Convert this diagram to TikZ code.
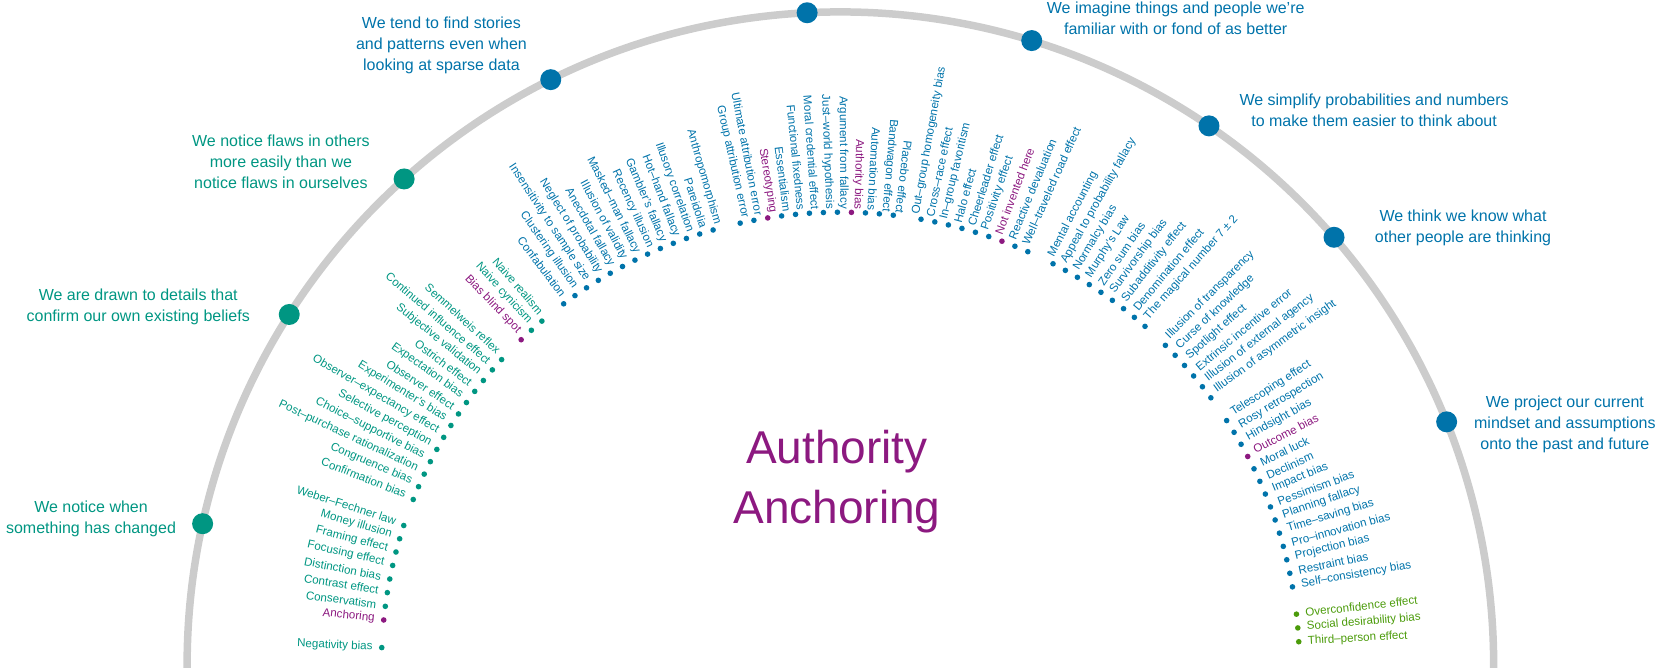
\documentclass[tikz,border=0pt]{standalone}
\usepackage{fontspec}
\setmainfont{Liberation Sans}
\usepackage{tikz}
\usetikzlibrary{positioning}

\definecolor{cgreen}{RGB}{0,150,130}
\definecolor{cblue}{RGB}{0,115,170}
\definecolor{cpurple}{RGB}{140,25,128}
\definecolor{colive}{RGB}{75,155,10}
\definecolor{cgrey}{RGB}{204,204,204}

\begin{document}
\begin{tikzpicture}[x=1pt,y=1pt,
    rim/.style={draw=cgrey,line width=7.5pt},
    hub/.style={circle,fill=#1,inner sep=0pt,minimum size=21pt},
    cat/.style={text=#1,align=center,inner sep=0pt,font=\fontsize{16}{21}\selectfont},
    title/.style={text=cpurple,align=center,inner sep=0pt,font=\fontsize{46}{60.7}\selectfont},
    bias text/.style={font=\fontsize{11.6}{13}\selectfont,inner sep=0pt,label distance=6pt},
    lb/.style n args={3}{circle,fill=#3,inner sep=0pt,minimum size=5.6pt,
      label={[bias text,text=#3,rotate=#1-180,anchor=east]#1:#2}},
    rb/.style n args={3}{circle,fill=#3,inner sep=0pt,minimum size=5.6pt,
      label={[bias text,text=#3,rotate=#1,anchor=west]#1:#2}}]

  \useasboundingbox (-840.4,-1.8) rectangle (833.6,665.2);

  % outer rim and its categories
  \draw[rim] (180.5:653.3) arc[start angle=180.5,end angle=-0.5,radius=653.3];

  \node[hub=cgreen] (changed) at (167.49:653.3) {};
  \node[hub=cgreen] (confirm) at (147.53:653.3) {};
  \node[hub=cgreen] (flaws) at (131.9:653.3) {};
  \node[hub=cblue] (stories) at (116.32:653.3) {};
  \node[hub=cblue] (top) at (92.92:653.3) {};
  \node[hub=cblue] (familiar) at (72.97:653.3) {};
  \node[hub=cblue] (simplify) at (55.65:653.3) {};
  \node[hub=cblue] (minds) at (40.92:653.3) {};
  \node[hub=cblue] (project) at (21.87:653.3) {};

  \node[cat=cgreen,xshift=-111.6pt,yshift=4.6pt] (changedtext) at (changed)
    {We notice when\\something has changed};
  \node[cat=cgreen,xshift=-151pt,yshift=7.5pt] (confirmtext) at (confirm)
    {We are drawn to details that\\confirm our own existing beliefs};
  \node[cat=cgreen,xshift=-123.2pt,yshift=16.7pt] (flawstext) at (flaws)
    {We notice flaws in others\\more easily than we\\notice flaws in ourselves};
  \node[cat=cblue,xshift=-109.3pt,yshift=34.6pt] (storiestext) at (stories)
    {We tend to find stories\\and patterns even when\\looking at sparse data};
  \node[cat=cblue,xshift=144pt,yshift=21.9pt] (familiartext) at (familiar)
    {We imagine things and people we're\\familiar with or fond of as better};
  \node[cat=cblue,xshift=165.1pt,yshift=15.7pt] (simplifytext) at (simplify)
    {We simplify probabilities and numbers\\to make them easier to think about};
  \node[cat=cblue,xshift=129pt,yshift=9.5pt] (mindstext) at (minds)
    {We think we know what\\other people are thinking};
  \node[cat=cblue,xshift=118.2pt,yshift=-2.4pt] (projecttext) at (project)
    {We project our current\\mindset and assumptions\\onto the past and future};

  \node[title] (title) at (-3.4,183.5) {Authority\\Anchoring};

  % inner ring, left half
  \node[lb={177.77}{Negativity bias}{cgreen}] (negativity) at (177.77:459 and 453) {};
  \node[lb={174.27}{Anchoring}{cpurple}] (anchoring) at (174.27:459 and 453) {};
  \node[lb={172.53}{Conservatism}{cgreen}] (conservatism) at (172.53:459 and 453) {};
  \node[lb={170.78}{Contrast effect}{cgreen}] (contrast) at (170.78:459 and 453) {};
  \node[lb={169.03}{Distinction bias}{cgreen}] (distinction) at (169.03:459 and 453) {};
  \node[lb={167.28}{Focusing effect}{cgreen}] (focusing) at (167.28:459 and 453) {};
  \node[lb={165.53}{Framing effect}{cgreen}] (framing) at (165.53:459 and 453) {};
  \node[lb={163.79}{Money illusion}{cgreen}] (money) at (163.79:459 and 453) {};
  \node[lb={162.04}{Weber--Fechner law}{cgreen}] (weber) at (162.04:459 and 453) {};
  \node[lb={158.54}{Confirmation bias}{cgreen}] (confirmation) at (158.54:459 and 453) {};
  \node[lb={156.79}{Congruence bias}{cgreen}] (congruence) at (156.79:459 and 453) {};
  \node[lb={155.05}{Post--purchase rationalization}{cgreen}] (postpurchase) at (155.05:459 and 453) {};
  \node[lb={153.30}{Choice--supportive bias}{cgreen}] (choice) at (153.30:459 and 453) {};
  \node[lb={151.55}{Selective perception}{cgreen}] (selective) at (151.55:459 and 453) {};
  \node[lb={149.80}{Observer--expectancy effect}{cgreen}] (obsexpect) at (149.80:459 and 453) {};
  \node[lb={148.05}{Experimenter's bias}{cgreen}] (experimenter) at (148.05:459 and 453) {};
  \node[lb={146.31}{Observer effect}{cgreen}] (observer) at (146.31:459 and 453) {};
  \node[lb={144.56}{Expectation bias}{cgreen}] (expectation) at (144.56:459 and 453) {};
  \node[lb={142.81}{Ostrich effect}{cgreen}] (ostrich) at (142.81:459 and 453) {};
  \node[lb={141.06}{Subjective validation}{cgreen}] (subjective) at (141.06:459 and 453) {};
  \node[lb={139.31}{Continued influence effect}{cgreen}] (continued) at (139.31:459 and 453) {};
  \node[lb={137.57}{Semmelweis reflex}{cgreen}] (semmelweis) at (137.57:459 and 453) {};
  \node[lb={134.07}{Bias blind spot}{cpurple}] (blindspot) at (134.07:459 and 453) {};
  \node[lb={132.32}{Naive cynicism}{cgreen}] (cynicism) at (132.32:459 and 453) {};
  \node[lb={130.57}{Naive realism}{cgreen}] (realism) at (130.57:459 and 453) {};
  \node[lb={127.08}{Confabulation}{cblue}] (confabulation) at (127.08:459 and 453) {};
  \node[lb={125.33}{Clustering illusion}{cblue}] (clustering) at (125.33:459 and 453) {};
  \node[lb={123.58}{Insensitivity to sample size}{cblue}] (insensitivity) at (123.58:459 and 453) {};
  \node[lb={121.83}{Neglect of probability}{cblue}] (neglect) at (121.83:459 and 453) {};
  \node[lb={120.09}{Anecdotal fallacy}{cblue}] (anecdotal) at (120.09:459 and 453) {};
  \node[lb={118.34}{Illusion of validity}{cblue}] (validity) at (118.34:459 and 453) {};
  \node[lb={116.59}{Masked--man fallacy}{cblue}] (maskedman) at (116.59:459 and 453) {};
  \node[lb={114.84}{Recency illusion}{cblue}] (recency) at (114.84:459 and 453) {};
  \node[lb={113.09}{Gambler's fallacy}{cblue}] (gambler) at (113.09:459 and 453) {};
  \node[lb={111.35}{Hot--hand fallacy}{cblue}] (hothand) at (111.35:459 and 453) {};
  \node[lb={109.60}{Illusory correlation}{cblue}] (illusory) at (109.60:459 and 453) {};
  \node[lb={107.85}{Pareidolia}{cblue}] (pareidolia) at (107.85:459 and 453) {};
  \node[lb={106.10}{Anthropomorphism}{cblue}] (anthropo) at (106.10:459 and 453) {};
  \node[lb={102.61}{Group attribution error}{cblue}] (groupattr) at (102.61:459 and 453) {};
  \node[lb={100.86}{Ultimate attribution error}{cblue}] (ultimate) at (100.86:459 and 453) {};
  \node[lb={99.11}{Stereotyping}{cpurple}] (stereotyping) at (99.11:459 and 453) {};
  \node[lb={97.36}{Essentialism}{cblue}] (essentialism) at (97.36:459 and 453) {};
  \node[lb={95.61}{Functional fixedness}{cblue}] (functional) at (95.61:459 and 453) {};
  \node[lb={93.87}{Moral credential effect}{cblue}] (credential) at (93.87:459 and 453) {};
  \node[lb={92.12}{Just--world hypothesis}{cblue}] (justworld) at (92.12:459 and 453) {};
  \node[lb={90.37}{Argument from fallacy}{cblue}] (argument) at (90.37:459 and 453) {};
  \node[lb={88.62}{Authority bias}{cpurple}] (authority) at (88.62:459 and 453) {};
  \node[lb={86.87}{Automation bias}{cblue}] (automation) at (86.87:459 and 453) {};
  \node[lb={85.13}{Bandwagon effect}{cblue}] (bandwagon) at (85.13:459 and 453) {};
  \node[lb={83.38}{Placebo effect}{cblue}] (placebo) at (83.38:459 and 453) {};

  % inner ring, right half
  \node[rb={79.88}{Out--group homogeneity bias}{cblue}] (outgroup) at (79.88:459 and 453) {};
  \node[rb={78.13}{Cross--race effect}{cblue}] (crossrace) at (78.13:459 and 453) {};
  \node[rb={76.39}{In--group favoritism}{cblue}] (ingroup) at (76.39:459 and 453) {};
  \node[rb={74.64}{Halo effect}{cblue}] (halo) at (74.64:459 and 453) {};
  \node[rb={72.89}{Cheerleader effect}{cblue}] (cheerleader) at (72.89:459 and 453) {};
  \node[rb={71.14}{Positivity effect}{cblue}] (positivity) at (71.14:459 and 453) {};
  \node[rb={69.39}{Not invented here}{cpurple}] (notinvented) at (69.39:459 and 453) {};
  \node[rb={67.65}{Reactive devaluation}{cblue}] (reactive) at (67.65:459 and 453) {};
  \node[rb={65.90}{Well--traveled road effect}{cblue}] (welltraveled) at (65.90:459 and 453) {};
  \node[rb={62.40}{Mental accounting}{cblue}] (mental) at (62.40:459 and 453) {};
  \node[rb={60.65}{Appeal to probability fallacy}{cblue}] (appeal) at (60.65:459 and 453) {};
  \node[rb={58.91}{Normalcy bias}{cblue}] (normalcy) at (58.91:459 and 453) {};
  \node[rb={57.16}{Murphy's Law}{cblue}] (murphy) at (57.16:459 and 453) {};
  \node[rb={55.41}{Zero sum bias}{cblue}] (zerosum) at (55.41:459 and 453) {};
  \node[rb={53.66}{Survivorship bias}{cblue}] (survivorship) at (53.66:459 and 453) {};
  \node[rb={51.91}{Subadditivity effect}{cblue}] (subadditivity) at (51.91:459 and 453) {};
  \node[rb={50.17}{Denomination effect}{cblue}] (denomination) at (50.17:459 and 453) {};
  \node[rb={48.42}{The magical number 7 ± 2}{cblue}] (magical) at (48.42:459 and 453) {};
  \node[rb={44.92}{Illusion of transparency}{cblue}] (transparency) at (44.92:459 and 453) {};
  \node[rb={43.17}{Curse of knowledge}{cblue}] (curse) at (43.17:459 and 453) {};
  \node[rb={41.43}{Spotlight effect}{cblue}] (spotlight) at (41.43:459 and 453) {};
  \node[rb={39.68}{Extrinsic incentive error}{cblue}] (extrinsic) at (39.68:459 and 453) {};
  \node[rb={37.93}{Illusion of external agency}{cblue}] (agency) at (37.93:459 and 453) {};
  \node[rb={36.18}{Illusion of asymmetric insight}{cblue}] (asymmetric) at (36.18:459 and 453) {};
  \node[rb={32.69}{Telescoping effect}{cblue}] (telescoping) at (32.69:459 and 453) {};
  \node[rb={30.94}{Rosy retrospection}{cblue}] (rosy) at (30.94:459 and 453) {};
  \node[rb={29.19}{Hindsight bias}{cblue}] (hindsight) at (29.19:459 and 453) {};
  \node[rb={27.44}{Outcome bias}{cpurple}] (outcome) at (27.44:459 and 453) {};
  \node[rb={25.69}{Moral luck}{cblue}] (moralluck) at (25.69:459 and 453) {};
  \node[rb={23.95}{Declinism}{cblue}] (declinism) at (23.95:459 and 453) {};
  \node[rb={22.20}{Impact bias}{cblue}] (impact) at (22.20:459 and 453) {};
  \node[rb={20.45}{Pessimism bias}{cblue}] (pessimism) at (20.45:459 and 453) {};
  \node[rb={18.70}{Planning fallacy}{cblue}] (planning) at (18.70:459 and 453) {};
  \node[rb={16.95}{Time--saving bias}{cblue}] (timesaving) at (16.95:459 and 453) {};
  \node[rb={15.21}{Pro--innovation bias}{cblue}] (proinnovation) at (15.21:459 and 453) {};
  \node[rb={13.46}{Projection bias}{cblue}] (projection) at (13.46:459 and 453) {};
  \node[rb={11.71}{Restraint bias}{cblue}] (restraint) at (11.71:459 and 453) {};
  \node[rb={9.96}{Self--consistency bias}{cblue}] (selfconsistency) at (9.96:459 and 453) {};
  \node[rb={6.47}{Overconfidence effect}{colive}] (overconfidence) at (6.47:459 and 453) {};
  \node[rb={4.72}{Social desirability bias}{colive}] (desirability) at (4.72:459 and 453) {};
  \node[rb={2.97}{Third--person effect}{colive}] (thirdperson) at (2.97:459 and 453) {};
\end{tikzpicture}
\end{document}
